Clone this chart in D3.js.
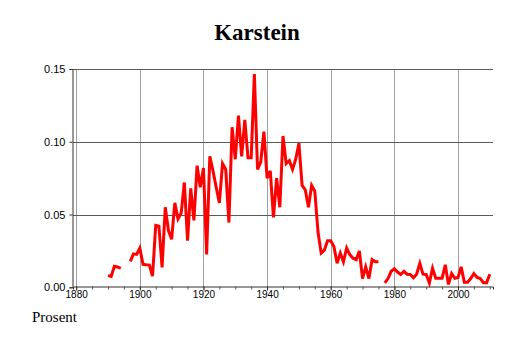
<!DOCTYPE html>
<html>
<head>
<meta charset="utf-8">
<script src="https://cdn.jsdelivr.net/npm/d3@7"></script>
<style>
    html, body { margin: 0; padding: 0; background: #ffffff; }
    svg { display: block; }
</style>
</head>
<body>
<div id="chart"></div>
<script>
// Andel (prosent) per år, null = mangler
const years = d3.range(1890, 2011);
const values = [
    0.008, 0.0075, 0.0145, 0.014, 0.013, null, null, 0.0178, 0.023, 0.0226,   // 1890-1899
    0.027, 0.0158, 0.0155, 0.0153, 0.0077, 0.0425, 0.042, 0.0137, 0.055, 0.039, // 1900-1909
    0.033, 0.058, 0.047, 0.051, 0.072, 0.032, 0.068, 0.046, 0.0836, 0.0687,    // 1910-1919
    0.082, 0.0226, 0.090, 0.080, 0.0687, 0.058, 0.085, 0.081, 0.0445, 0.110,   // 1920-1929
    0.088, 0.118, 0.090, 0.115, 0.089, 0.089, 0.1466, 0.081, 0.086, 0.107,     // 1930-1939
    0.075, 0.080, 0.048, 0.075, 0.055, 0.104, 0.085, 0.087, 0.081, 0.088,      // 1940-1949
    0.099, 0.070, 0.067, 0.055, 0.070, 0.066, 0.038, 0.0235, 0.0255, 0.032,    // 1950-1959
    0.032, 0.028, 0.0165, 0.0235, 0.0175, 0.027, 0.0225, 0.020, 0.019, 0.025,  // 1960-1969
    0.006, 0.014, 0.006, 0.019, 0.0175, 0.0175, null, 0.003, 0.006, 0.011,     // 1970-1979
    0.0128, 0.0105, 0.0088, 0.011, 0.009, 0.0088, 0.0065, 0.009, 0.0165, 0.009, // 1980-1989
    0.0088, 0.003, 0.013, 0.0062, 0.0062, 0.0062, 0.0155, 0.002, 0.0095, 0.0062, // 1990-1999
    0.0068, 0.014, 0.0035, 0.0035, 0.006, 0.0095, 0.0068, 0.006, 0.0032, 0.0032, // 2000-2009
    0.009                                                                       // 2010
];
const yTicks = [0, 0.05, 0.10, 0.15];
const xTicks = [1880, 1900, 1920, 1940, 1960, 1980, 2000];
const xMinorTicks = d3.range(1880, 2011, 5);

const title = "Karstein";
const unitLabel = "Prosent";

const width = 514;
const height = 343;
const margin = { top: 69, right: 20, bottom: 56, left: 73 };

const data = years.map((y, i) => ({ year: y, value: values[i] }));

const svg = d3.select("#chart")
    .append("svg")
    .attr("width", width)
    .attr("height", height);

const x = d3.scaleLinear()
    .domain([1879, 2011])
    .range([margin.left, width - margin.right - 1]);

const y = d3.scaleLinear()
    .domain([0, 0.15])
    .range([height - margin.bottom + 0.3, margin.top]);

// rutenett
svg.append("g")
    .selectAll("line")
    .data(xTicks)
    .join("line")
    .attr("x1", (d) => Math.round(x(d)) + 0.5)
    .attr("x2", (d) => Math.round(x(d)) + 0.5)
    .attr("y1", y(0.15))
    .attr("y2", y(0))
    .attr("stroke", "#a0a0a0")
    .attr("stroke-width", 1);

svg.append("g")
    .selectAll("line")
    .data(yTicks.slice(1))
    .join("line")
    .attr("x1", margin.left)
    .attr("x2", x(2011))
    .attr("y1", (d) => Math.round(y(d)) + 0.5)
    .attr("y2", (d) => Math.round(y(d)) + 0.5)
    .attr("stroke", "#5a5a5a")
    .attr("stroke-width", 1);

// x-akse
const xAxis = svg.append("g")
    .attr("transform", `translate(0,${Math.round(y(0)) - 0.5})`)
    .call(d3.axisBottom(x).tickValues(xMinorTicks).tickSize(3).tickFormat(""));
xAxis.select(".domain").attr("stroke", "#333");
xAxis.selectAll(".tick line").attr("stroke", "#555");

const xLabels = svg.append("g")
    .attr("transform", `translate(0,${Math.round(y(0)) - 0.5})`)
    .call(d3.axisBottom(x).tickValues(xTicks).tickSize(4).tickFormat(d3.format("d")));
xLabels.select(".domain").remove();
xLabels.selectAll(".tick line").attr("stroke", "#333");
xLabels.selectAll("text")
    .attr("dy", "0.55em")
    .attr("y", 6)
    .style("font-family", "'Liberation Sans', Arial, sans-serif")
    .style("font-size", "10px")
    .attr("fill", "#000");

// y-akse
const yAxis = svg.append("g")
    .attr("transform", `translate(${margin.left - 0.5},0)`)
    .call(d3.axisLeft(y).tickValues(yTicks).tickSize(3).tickFormat(d3.format(".2f")));
yAxis.select(".domain").attr("stroke", "#333");
yAxis.selectAll(".tick line").attr("stroke", "#333");
yAxis.selectAll("text")
    .attr("x", -7)
    .style("font-family", "'Liberation Sans', Arial, sans-serif")
    .style("font-size", "11px")
    .attr("fill", "#000");

// linje
const line = d3.line()
    .defined((d) => d.value !== null)
    .x((d) => x(d.year))
    .y((d) => y(d.value));

svg.append("path")
    .datum(data)
    .attr("fill", "none")
    .attr("stroke", "#ff0000")
    .attr("stroke-width", 3)
    .attr("stroke-linejoin", "miter")
    .attr("d", line);

// tekster
svg.append("text")
    .attr("x", 257)
    .attr("y", 40)
    .attr("text-anchor", "middle")
    .style("font-family", "'Liberation Serif', 'Times New Roman', serif")
    .style("font-weight", "bold")
    .style("font-size", "23px")
    .text(title);

svg.append("text")
    .attr("x", 32)
    .attr("y", 322)
    .style("font-family", "'Liberation Serif', 'Times New Roman', serif")
    .style("font-size", "15px")
    .text(unitLabel);
</script>
</body>
</html>
